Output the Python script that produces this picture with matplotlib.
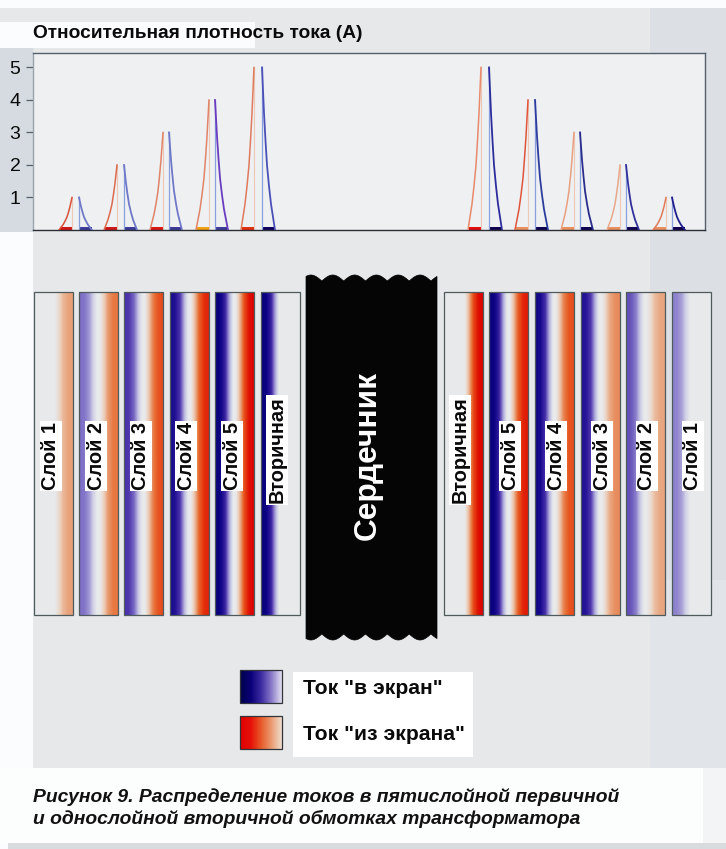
import numpy as np
import matplotlib
matplotlib.use("Agg")
import matplotlib.pyplot as plt
from matplotlib.colors import LinearSegmentedColormap
from matplotlib.patches import Rectangle, Polygon

plt.rcParams["font.family"] = ["Liberation Sans", "DejaVu Sans"]

W, H = 726, 849

# peaks of the current density curves, x is in picture pixels
peak_heights = [1, 2, 3, 4, 5, 5, 4, 3, 2, 1]
red_peak_x = [72, 117, 163, 209, 254, 481, 528, 574, 620, 666]
blue_peak_x = [79, 124, 169, 215, 262, 489, 535, 580, 626, 672]
red_line_colors = ["#d8503a", "#dc6a4e", "#e08468", "#e08468", "#e07a5c",
                   "#e88a6c", "#e0553a", "#e8a080", "#e8a888", "#e07a58"]
blue_line_colors = ["#7078c8", "#7078c8", "#7078c8", "#6a3cc0", "#4a50b8",
                    "#2c2c9c", "#2c3c9c", "#2c2c8c", "#30309c", "#20208c"]
red_base_colors = ["#d01818", "#d01818", "#d81810", "#f0a010", "#e03010",
                   "#e01010", "#e89060", "#e89060", "#e89060", "#e89060"]
blue_base_colors = ["#3c3c98", "#3c3c98", "#3c3c98", "#3c3c98", "#100060",
                    "#100050", "#100050", "#100050", "#100050", "#100050"]
# shape of one peak: distance from peak in px, share of height
peak_offsets = [13, 11, 9, 7, 5, 3.5, 2, 1, 0]
peak_shape = [0.0, 0.08, 0.16, 0.27, 0.40, 0.55, 0.72, 0.86, 1.0]

# windings, left side and right side of the core
left_names = ["Слой 1", "Слой 2", "Слой 3", "Слой 4", "Слой 5", "Вторичная"]
left_x0 = [33.5, 79, 124, 169.5, 215, 261]
left_blue = [0.0, 0.42, 0.62, 0.85, 1.0, 1.0]
left_red = [0.36, 0.55, 0.72, 0.88, 1.0, 0.0]
right_names = ["Вторичная", "Слой 5", "Слой 4", "Слой 3", "Слой 2", "Слой 1"]
right_x0 = [443.5, 489, 535, 581, 626, 672]
right_blue = [0.0, 1.0, 0.92, 0.82, 0.52, 0.36]
right_red = [1.0, 0.92, 0.72, 0.46, 0.34, 0.0]
left_label_x = [51, 96, 141, 186, 232, 277]
right_label_x = [460, 510, 556, 602, 647, 693]

# how the current fades from the edge of the bar towards its middle
fade_pos = [0.0, 0.12, 0.25, 0.36, 0.46]
fade_val = [1.0, 0.95, 0.70, 0.25, 0.0]

current_cmap = LinearSegmentedColormap.from_list("current", [
    (0.00, "#08007c"), (0.08, "#1c0c90"), (0.20, "#4c34ac"), (0.32, "#8c80cc"),
    (0.43, "#c8c8e4"), (0.50, "#e8eaec"), (0.58, "#eccdb8"), (0.68, "#e8a078"),
    (0.80, "#e86a30"), (0.90, "#e63a10"), (1.00, "#dc0400")])


def px_axes(fig, x0, y0, x1, y1):
    return fig.add_axes([x0 / W, 1 - y1 / H, (x1 - x0) / W, (y1 - y0) / H])


def bar_image(blue, red, width=39, height=324):
    u = np.linspace(0, 1, width)
    vals = red * np.interp(1 - u, fade_pos, fade_val) - blue * np.interp(u, fade_pos, fade_val)
    return np.tile(vals, (height, 1))


def draw_bars(ax, names, x0s, blues, reds, label_xs, y0, y1, w=39):
    for name, x0, b, r, lx in zip(names, x0s, blues, reds, label_xs):
        ax.imshow(bar_image(b, r), cmap=current_cmap, vmin=-1, vmax=1, aspect="auto",
                  extent=(x0, x0 + w, y1, y0), interpolation="bilinear", zorder=2)
        ax.add_patch(Rectangle((x0, y0), w, y1 - y0, fill=False, ec="#4e5a5c", lw=0.9, zorder=3))
        ax.text(lx, 450 if name == "Вторичная" else 456, name, rotation=90, ha="center", va="center",
                fontsize=14.4, fontweight="bold", color="#0a0a0a", zorder=4,
                bbox=dict(fc="white", ec="none", pad=1.0))


def core_outline():
    # scalloped top and bottom of the core
    x = np.linspace(306, 437, 200)
    top = 281 - 6 * np.abs(np.sin((x - 300) / 131 * np.pi * 6))
    bottom = 634 + 6 * np.abs(np.sin((x - 300) / 131 * np.pi * 6))
    return np.column_stack([np.r_[x, x[::-1]], np.r_[top, bottom[::-1]]])


fig = plt.figure(figsize=(W / 100, H / 100), dpi=100, facecolor="#fbfcfd")

# page background and the white label strips
bg = fig.add_axes([0, 0, 1, 1])
bg.set_xlim(0, W)
bg.set_ylim(H, 0)
bg.axis("off")
bg.add_patch(Rectangle((33, 230), 693, 538, fc="#e6e8ea", ec="none"))
bg.add_patch(Rectangle((0, 8), W, 60, fc="#e6e8ea", ec="none"))
bg.add_patch(Rectangle((0, 48), 33, 184, fc="#d5dbe1", ec="none"))
bg.add_patch(Rectangle((650, 8), 76, 572, fc="#dce0e5", ec="none"))
bg.add_patch(Rectangle((650, 580), 76, 188, fc="#e1e4e8", ec="none"))
bg.add_patch(Rectangle((0, 22), 255, 26, fc="#fbfcfd", ec="none"))
bg.add_patch(Rectangle((0, 768), 703, 75, fc="#fcfdfd", ec="none"))
bg.add_patch(Rectangle((703, 768), 23, 75, fc="#f2f4f6", ec="none"))
bg.add_patch(Rectangle((8, 843), 718, 6, fc="#d8dcdf", ec="none"))
bg.text(33, 33, "Относительная плотность тока (А)", fontsize=13.8, fontweight="bold",
        va="center", color="#0a0a0a")

# windings and core
draw_bars(bg, left_names, left_x0, left_blue, left_red, left_label_x, 292, 615)
draw_bars(bg, right_names, right_x0, right_blue, right_red, right_label_x, 292, 615)
bg.add_patch(Polygon(core_outline(), closed=True, fc="#050505", ec="#050505", lw=0.5, zorder=3))
bg.text(368, 456, "Сердечник", rotation=90, ha="center", va="center", color="white",
        fontsize=22.8, fontweight="bold", zorder=4)

# legend
bg.add_patch(Rectangle((293, 672), 180, 85, fc="white", ec="none", zorder=1))
legend_grad = np.linspace(0, 1, 42)[None, :]
blue_legend = LinearSegmentedColormap.from_list("b", ["#00004c", "#0a0078", "#3a2aa0", "#8878c8", "#e0dcf0"])
red_legend = LinearSegmentedColormap.from_list("r", ["#e00000", "#e61008", "#e85a28", "#ea9a70", "#f0dccc"])
bg.imshow(legend_grad, cmap=blue_legend, aspect="auto", extent=(240, 282, 703, 670), zorder=2)
bg.imshow(legend_grad, cmap=red_legend, aspect="auto", extent=(240, 282, 749, 716), zorder=2)
for y in (670, 716):
    bg.add_patch(Rectangle((240, y), 42, 33, fill=False, ec="#30343a", lw=0.9, zorder=3))
bg.text(303, 688, 'Ток "в экран"', fontsize=15.2, fontweight="bold", va="center", zorder=3, color="#0a0a0a")
bg.text(303, 735, 'Ток "из экрана"', fontsize=15.2, fontweight="bold", va="center", zorder=3, color="#0a0a0a")

# caption
bg.text(33, 797, "Рисунок 9. Распределение токов в пятислойной первичной", fontsize=13.9,
        fontweight="bold", fontstyle="italic", va="center", color="#111111")
bg.text(33, 819, "и однослойной вторичной обмотках трансформатора", fontsize=13.9,
        fontweight="bold", fontstyle="italic", va="center", color="#111111")
bg.set_xlim(0, W)
bg.set_ylim(H, 0)

# density chart on top, same pixel scale in x
ax = px_axes(fig, 33, 53, 705, 230)
ax.set_facecolor("#eef0f2")
ax.set_xlim(33, 705)
ax.set_ylim(0, 177 / 32.5)
offsets = np.array(peak_offsets)
shape = np.array(peak_shape)
for i, h in enumerate(peak_heights):
    xr = red_peak_x[i]
    xb = blue_peak_x[i]
    ax.fill_between([xr - 12.5, xr], 0, 0.1, color=red_base_colors[i], lw=0, zorder=2)
    ax.fill_between([xb, xb + 13], 0, 0.1, color=blue_base_colors[i], lw=0, zorder=2)
    ax.plot(xr - offsets, h * shape, color=red_line_colors[i], lw=1.1, zorder=3)
    ax.plot(xb + offsets, h * shape, color=blue_line_colors[i], lw=1.3, zorder=3)
    ax.plot([xr, xr], [0, h], color="#eec8b4", lw=0.8, zorder=2)
    ax.plot([xb, xb], [0, h], color="#8aa0dc", lw=0.9, zorder=2)
ax.set_xticks([])
ax.set_yticks([1, 2, 3, 4, 5])
ax.tick_params(axis="y", labelsize=14, length=5, width=0.9, color="#55606a", pad=4, labelcolor="#0a0a0a")
for side in ax.spines.values():
    side.set_color("#55606a")
    side.set_linewidth(1.0)
ax.spines["left"].set_color("#9aa4ac")
ax.spines["bottom"].set_color("#2a2e34")

fig.savefig("out.png", dpi=100, facecolor=fig.get_facecolor())
